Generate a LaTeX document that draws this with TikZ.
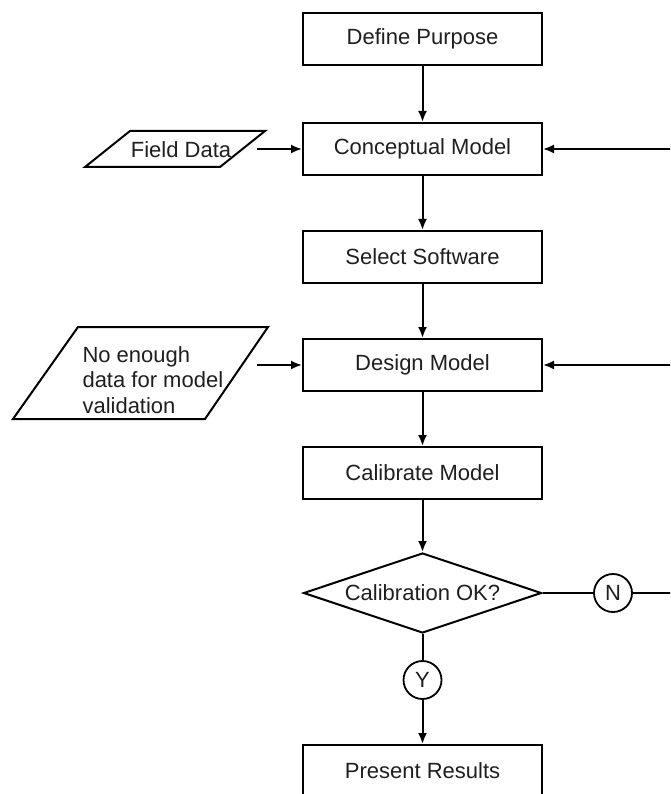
\documentclass[tikz,border=0pt]{standalone}
\usepackage{fontspec}
\setmainfont{Liberation Sans}
\usetikzlibrary{shapes.geometric,arrows.meta}
\begin{document}
\begin{tikzpicture}[x=1pt,y=-1pt,
  every node/.style={font=\fontsize{22}{25.5}\selectfont, text=black!88},
  stepbox/.style={draw, line width=2pt, minimum width=239pt, minimum height=52pt, inner sep=0pt},
  decision/.style={draw, line width=2pt, diamond, aspect=2.97, minimum width=238pt, minimum height=80pt, inner sep=0pt},
  marker/.style={draw, line width=1.8pt, circle, minimum size=38pt, inner sep=0pt},
  flow/.style={line width=2pt, -{Latex[length=11pt,width=9pt]}},
  link/.style={line width=2pt},
  shapeline/.style={line width=2pt, line join=miter}]
\path[use as bounding box] (0,0) rectangle (670,794);
\fill[white] (0,0) rectangle (670,794);
\clip (0,0) rectangle (670,794);

% main column
\node[stepbox] (dp)  at (422.5,39)  {Define Purpose};
\node[stepbox] (cm)  at (422.5,149) {Conceptual Model};
\node[stepbox] (ss)  at (422.5,257) {Select Software};
\node[stepbox] (dm)  at (422.5,365) {Design Model};
\node[stepbox] (cal) at (422.5,473) {Calibrate Model};
\node[decision] (ok) at (422.5,593) {Calibration OK?};
\node[marker] (yes) at (422.5,680) {Y};
\node[marker] (no)  at (613,593) {N};
\node[stepbox] (pr)  at (422.5,771) {Present Results};

% input parallelograms
\draw[shapeline] (85,167) -- (130,131) -- (265,131) -- (220,167) -- cycle;
\node (fd) at (181,150) {Field Data};
\draw[shapeline] (13,419) -- (78,327) -- (268,327) -- (205,419) -- cycle;
\node[align=left, anchor=west] (ne) at (79,380) {No enough\\data for model\\validation};

% free ends
\coordinate (fdout) at (257,149);
\coordinate (neout) at (257,365);
\coordinate (rtop) at (672,149);
\coordinate (rmid) at (672,365);
\coordinate (rlow) at (672,593);

% connectors
\draw[flow] (dp) -- (cm);
\draw[flow] (cm) -- (ss);
\draw[flow] (ss) -- (dm);
\draw[flow] (dm) -- (cal);
\draw[flow] (cal) -- (ok.north);
\draw[link] (ok.south) -- (yes.north);
\draw[flow] (yes) -- (pr);
\draw[link] (ok.east) -- (no.west);
\draw[link] (no.east) -- (rlow);
\draw[flow] (rtop) -- (cm.east);
\draw[flow] (rmid) -- (dm.east);
\draw[flow] (fdout) -- (cm.west);
\draw[flow] (neout) -- (dm.west);
\end{tikzpicture}
\end{document}
